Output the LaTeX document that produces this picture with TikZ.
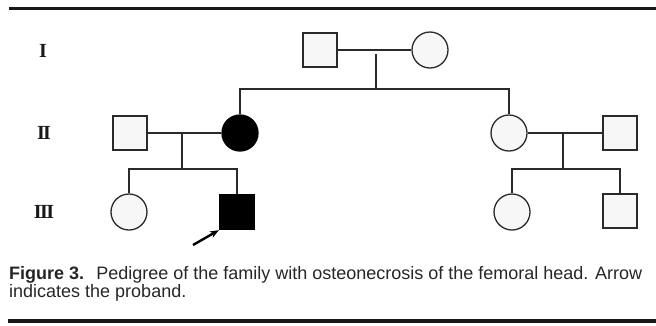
\documentclass[tikz,border=0pt]{standalone}
\usepackage{fontspec}
\setmainfont{Liberation Sans}
\newfontfamily\capfont{Liberation Sans}
\newfontfamily\numfont{Liberation Serif}
\usetikzlibrary{arrows.meta}
\definecolor{linec}{HTML}{2A2A2A}
\definecolor{openfill}{HTML}{F7F7F7}
\newcommand{\romII}{I\kern-1.6ptI}
\newcommand{\romIII}{I\kern-1.6ptI\kern-1.6ptI}
\tikzset{
  male/.style={draw=linec, line width=1.3pt, fill=openfill, minimum size=34pt, inner sep=0pt, shape=rectangle},
  female/.style={draw=linec, line width=1.3pt, fill=openfill, minimum size=36pt, inner sep=0pt, shape=circle},
  affected/.style={fill=black, draw=black},
  rel/.style={draw=linec, line width=1.2pt},
  gen/.style={font=\numfont\bfseries\fontsize{20}{20}\selectfont, inner sep=0pt, text=black!90},
  caption/.style={font=\capfont\fontsize{18}{20}\selectfont, inner sep=0pt, anchor=base west, text=black!85},
  rulebar/.style={draw=black!90, line width=3pt}
}
\begin{document}
\begin{tikzpicture}[x=1pt,y=-1pt]
\useasboundingbox (0,0) rectangle (656,325);
\clip (0,0) rectangle (656,325);
% rules
\coordinate (r1a) at (9,8.5); \coordinate (r1b) at (656,8.5);
\coordinate (r2a) at (8,321); \coordinate (r2b) at (656,321);
\draw[rulebar] (r1a) -- (r1b);
\draw[rulebar, line width=3.5pt] (r2a) -- (r2b);
% generation labels
\node[gen] (g1) at (43,51) {I};
\node[gen] (g2) at (44,133) {\romII};
\node[gen] (g3) at (44,212) {\romIII};
% generation I
\node[male] (i1) at (320,50) {};
\node[female] (i2) at (430,50) {};
% generation II
\node[male] (ii1) at (130,133) {};
\node[female, affected] (ii2) at (240,133) {};
\node[female] (ii3) at (509,133) {};
\node[male] (ii4) at (620,133) {};
% generation III
\node[female] (iii1) at (129,212) {};
\node[male, affected, minimum size=35pt] (iii2) at (237,212) {};
\node[female] (iii3) at (512,212) {};
\node[male] (iii4) at (620,211) {};
% family I
\coordinate (d1t) at (376,54);
\coordinate (d1b) at (376,89);
\draw[rel] (i1) -- (i2);
\draw[rel] (d1t) -- (d1b);
\draw[rel] (ii2.north) |- (d1b) -| (ii3.north);
% family II left
\coordinate (d2t) at (182,133);
\coordinate (d2b) at (182,169);
\draw[rel] (ii1) -- (ii2);
\draw[rel] (d2t) -- (d2b);
\draw[rel] (iii1.north) |- (d2b) -| (iii2.north);
% family II right
\coordinate (d3t) at (563,133);
\coordinate (d3b) at (563,169);
\draw[rel] (ii3) -- (ii4);
\draw[rel] (d3t) -- (d3b);
\draw[rel] (iii3.north) |- (d3b) -| (iii4.north);
% proband arrow
\coordinate (pa) at (193,245);
\draw[line width=2.4pt, -{Stealth[length=9pt,width=7pt]}] (pa) -- (iii2.south west);
% caption
\node[caption] (c1) at (9,279) {\textbf{Figure 3.}\hspace{0.3em} Pedigree of the family with osteonecrosis of the femoral head. Arrow};
\node[caption] (c2) at (9,297.5) {indicates the proband.};
\end{tikzpicture}
\end{document}
